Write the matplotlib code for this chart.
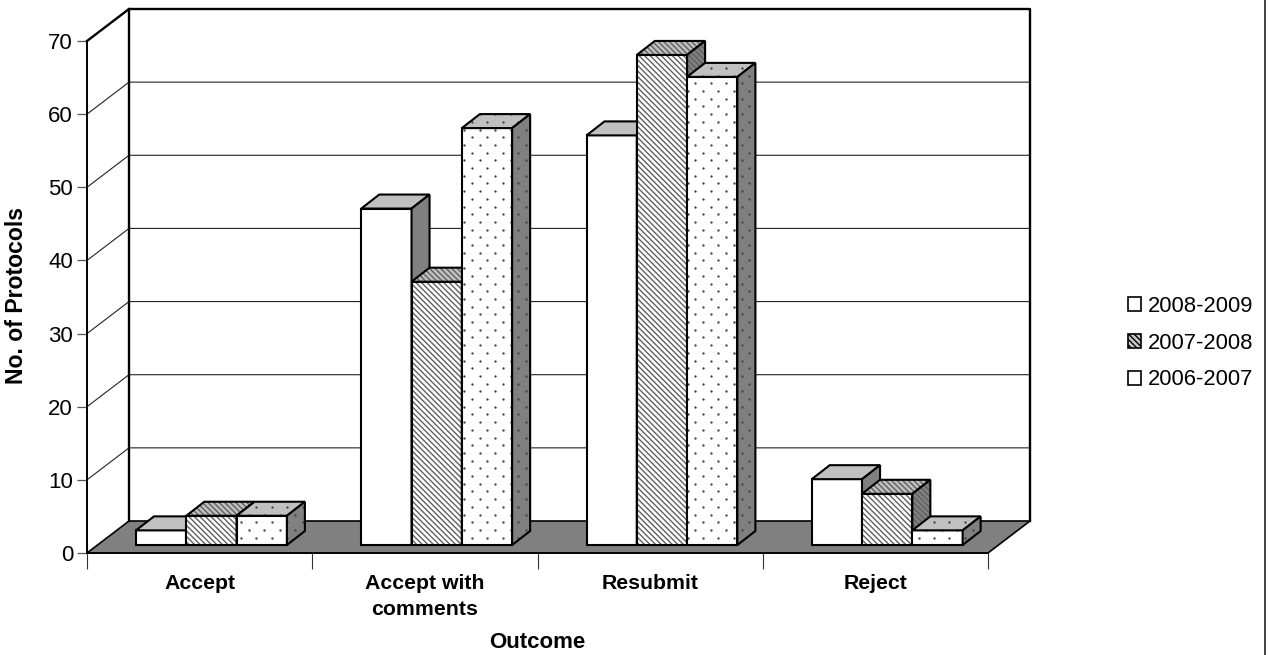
import matplotlib

matplotlib.use("Agg")
import matplotlib.pyplot as plt
import numpy as np
from matplotlib.lines import Line2D
from matplotlib.patches import Patch, Polygon

plt.rcParams["font.family"] = ["Liberation Sans", "DejaVu Sans"]
plt.rcParams["hatch.linewidth"] = 1.0

OUTCOMES = ["Accept", "Accept with\ncomments", "Resubmit", "Reject"]
YEARS = ["2008-2009", "2007-2008", "2006-2007"]
VALUES_2008 = [2, 46, 56, 9]
VALUES_2007 = [4, 36, 67, 7]
VALUES_2006 = [4, 57, 64, 2]
Y_TICKS = [0, 10, 20, 30, 40, 50, 60, 70]

FIG_W, FIG_H = 1269, 655
LEFT, RIGHT, BASE, TOP = 87, 988, 553, 41
PX_X = (RIGHT - LEFT) / len(OUTCOMES)
PX_Y = (BASE - TOP) / 70

# 3-D look: depth offsets expressed in data units
WALL_DX, WALL_DY = 42 / PX_X, 32 / PX_Y
BAR_DX, BAR_DY = 18 / PX_X, 14 / PX_Y
BAR_X0, BAR_Y0 = 49 / PX_X, 8 / PX_Y
BAR_W = 50.3 / PX_X
DOT_DX, DOT_DY = 15.4 / PX_X, 7.7 / PX_Y


def face(ax, pts, color, hatch=None, dots=False):
    """Fill one polygon, add its pattern, then its black outline."""
    ax.add_patch(Polygon(pts, closed=True, facecolor=color, edgecolor="none", clip_on=False, zorder=3))
    if hatch:
        ax.add_patch(Polygon(pts, closed=True, facecolor="none", edgecolor="#606060", hatch=hatch,
                             linewidth=0, clip_on=False, zorder=3))
    if dots:
        pts = np.asarray(pts)
        clip = Polygon(pts, closed=True, transform=ax.transData)
        rows = np.arange(np.floor(pts[:, 1].min() / DOT_DY), np.ceil(pts[:, 1].max() / DOT_DY) + 1)
        cols = np.arange(np.floor(pts[:, 0].min() / DOT_DX), np.ceil(pts[:, 0].max() / DOT_DX) + 1)
        xs, ys = [], []
        for r in rows:
            xs.extend((cols + 0.5 * (r % 2)) * DOT_DX)
            ys.extend([r * DOT_DY] * len(cols))
        dot, = ax.plot(xs, ys, ls="none", marker="o", ms=1.7, mec="none", mfc="#444444", zorder=3)
        dot.set_clip_path(clip)
    ax.add_patch(Polygon(pts, closed=True, facecolor="none", edgecolor="black", linewidth=1.5,
                         joinstyle="miter", clip_on=False, zorder=3))


def bar3d(ax, x, value, hatch=None, dots=False):
    y0 = BAR_Y0
    y1 = y0 + value
    x1 = x + BAR_W
    face(ax, [(x, y0), (x1, y0), (x1, y1), (x, y1)], "white", hatch, dots)
    face(ax, [(x, y1), (x1, y1), (x1 + BAR_DX, y1 + BAR_DY), (x + BAR_DX, y1 + BAR_DY)], "#c0c0c0", hatch, dots)
    face(ax, [(x1, y0), (x1 + BAR_DX, y0 + BAR_DY), (x1 + BAR_DX, y1 + BAR_DY), (x1, y1)], "#808080", hatch, dots)


fig = plt.figure(figsize=(FIG_W / 100, FIG_H / 100), dpi=100, facecolor="white")
ax = fig.add_axes([LEFT / FIG_W, 1 - BASE / FIG_H, (RIGHT - LEFT) / FIG_W, (BASE - TOP) / FIG_H])
ax.set_xlim(0, len(OUTCOMES))
ax.set_ylim(0, 70)
ax.patch.set_visible(False)
for side in ["top", "right", "bottom"]:
    ax.spines[side].set_visible(False)
ax.spines["left"].set_linewidth(1.4)

# floor and walls
floor = [(0, 0), (WALL_DX, WALL_DY), (4 + WALL_DX, WALL_DY), (4, 0)]
ax.add_patch(Polygon(floor, closed=True, facecolor="#808080", edgecolor="black", linewidth=1.2,
                     clip_on=False, zorder=1))
for v in Y_TICKS[1:-1]:
    ax.plot([0, WALL_DX, 4 + WALL_DX], [v, v + WALL_DY, v + WALL_DY], color="#222222", lw=0.8,
            clip_on=False, zorder=1)
ax.plot([0, WALL_DX, 4 + WALL_DX, 4 + WALL_DX], [70, 70 + WALL_DY, 70 + WALL_DY, WALL_DY],
        color="black", lw=1.7, clip_on=False, zorder=2)
ax.plot([WALL_DX, WALL_DX], [WALL_DY, 70 + WALL_DY], color="black", lw=1.7, clip_on=False, zorder=2)

series = [(VALUES_2008, None, False), (VALUES_2007, "\\" * 6, False), (VALUES_2006, None, True)]
for i in range(len(OUTCOMES)):
    for j, (vals, hatch, dots) in enumerate(series):
        bar3d(ax, i + BAR_X0 + j * BAR_W, vals[i], hatch, dots)

ax.set_yticks(Y_TICKS)
ax.tick_params(axis="y", length=7, width=0.9, color="#555555", labelsize=16, pad=3)
ax.set_xticks(np.arange(len(OUTCOMES) + 1))
ax.set_xticklabels([])
ax.tick_params(axis="x", which="major", length=11.5, width=0.8, color="#333333")
ax.plot([0, 4], [0, 0], color="black", lw=1.2, clip_on=False, zorder=2)
ax.set_xticks(np.arange(len(OUTCOMES)) + 0.5, OUTCOMES, minor=True, fontsize=15.3, fontweight="bold",
              linespacing=1.5)
ax.tick_params(axis="x", which="minor", length=0, pad=15)

ax.set_xlabel("Outcome", fontsize=16, fontweight="bold")
ax.xaxis.set_label_coords(0.4994, -0.155, transform=ax.transAxes)
ax.set_ylabel("No. of Protocols", fontsize=16.6, fontweight="bold")
ax.yaxis.set_label_coords(-0.0655, 0.503, transform=ax.transAxes)

handles = [
    Patch(facecolor="white", edgecolor="black", linewidth=1.2),
    Patch(facecolor="#c8c8c8", edgecolor="black", linewidth=1.2, hatch="\\" * 6),
    Patch(facecolor="white", edgecolor="black", linewidth=1.2),
]
fig.legend(handles, YEARS, loc="center left", bbox_to_anchor=(1128 / FIG_W, 1 - 343 / FIG_H),
           frameon=False, fontsize=15.8, handlelength=0.6, handleheight=0.6, handletextpad=0.3,
           labelspacing=0.72, borderpad=0, borderaxespad=0)

# frame line down the right-hand side of the page
fig.add_artist(Line2D([1265 / FIG_W] * 2, [0, 1], color="#333333", lw=1.3))

fig.savefig("out.png", dpi=100, facecolor="white")
